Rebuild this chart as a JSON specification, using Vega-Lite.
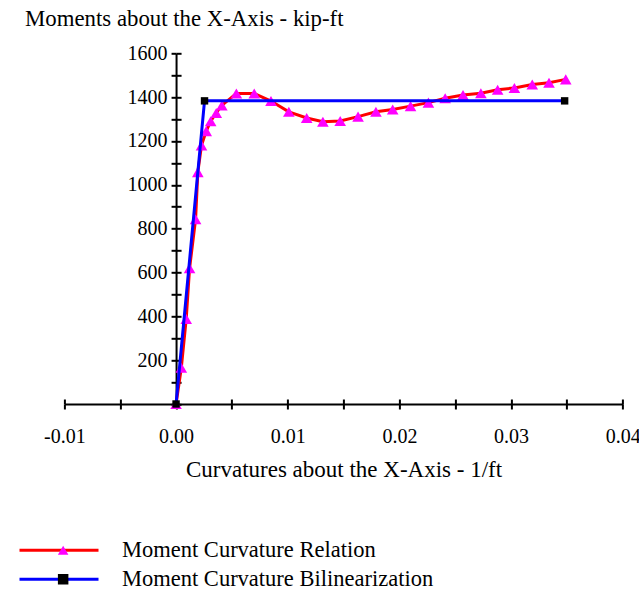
{
  "$schema": "https://vega.github.io/schema/vega-lite/v6.json",
  "width": 558.3,
  "height": 350.7,
  "autosize": {"type": "none"},
  "padding": {"left": 64.4, "top": 53.3, "right": 16.3, "bottom": 186},
  "background": "white",
  "config": {
    "view": {"stroke": null},
    "axis": {"grid": false, "domainColor": "black", "tickColor": "black", "labelColor": "black", "titleColor": "black", "labelFont": "Liberation Serif", "titleFont": "Liberation Serif", "titleFontWeight": "normal", "domainWidth": 2, "tickWidth": 2, "tickSize": 5},
    "legend": {"labelFont": "Liberation Serif", "labelColor": "black", "padding": 0}
  },
  "data": {"values": [
    {"curve": "Moment Curvature Relation", "x": 0, "y": 0},
    {"curve": "Moment Curvature Relation", "x": 0.00047, "y": 165},
    {"curve": "Moment Curvature Relation", "x": 0.00091, "y": 388},
    {"curve": "Moment Curvature Relation", "x": 0.00121, "y": 619},
    {"curve": "Moment Curvature Relation", "x": 0.00175, "y": 843},
    {"curve": "Moment Curvature Relation", "x": 0.00195, "y": 1058},
    {"curve": "Moment Curvature Relation", "x": 0.00228, "y": 1180},
    {"curve": "Moment Curvature Relation", "x": 0.0027, "y": 1245},
    {"curve": "Moment Curvature Relation", "x": 0.0031, "y": 1290},
    {"curve": "Moment Curvature Relation", "x": 0.0036, "y": 1328},
    {"curve": "Moment Curvature Relation", "x": 0.0041, "y": 1362},
    {"curve": "Moment Curvature Relation", "x": 0.0054, "y": 1417},
    {"curve": "Moment Curvature Relation", "x": 0.007, "y": 1417},
    {"curve": "Moment Curvature Relation", "x": 0.0085, "y": 1382},
    {"curve": "Moment Curvature Relation", "x": 0.0101, "y": 1333},
    {"curve": "Moment Curvature Relation", "x": 0.0117, "y": 1305},
    {"curve": "Moment Curvature Relation", "x": 0.01315, "y": 1288},
    {"curve": "Moment Curvature Relation", "x": 0.0147, "y": 1291},
    {"curve": "Moment Curvature Relation", "x": 0.0163, "y": 1311},
    {"curve": "Moment Curvature Relation", "x": 0.0179, "y": 1333},
    {"curve": "Moment Curvature Relation", "x": 0.0194, "y": 1344},
    {"curve": "Moment Curvature Relation", "x": 0.021, "y": 1359},
    {"curve": "Moment Curvature Relation", "x": 0.0226, "y": 1375},
    {"curve": "Moment Curvature Relation", "x": 0.0241, "y": 1395},
    {"curve": "Moment Curvature Relation", "x": 0.0257, "y": 1410},
    {"curve": "Moment Curvature Relation", "x": 0.0273, "y": 1418},
    {"curve": "Moment Curvature Relation", "x": 0.0288, "y": 1434},
    {"curve": "Moment Curvature Relation", "x": 0.0303, "y": 1442},
    {"curve": "Moment Curvature Relation", "x": 0.0319, "y": 1458},
    {"curve": "Moment Curvature Relation", "x": 0.0334, "y": 1466},
    {"curve": "Moment Curvature Relation", "x": 0.0349, "y": 1481},
    {"curve": "Moment Curvature Bilinearization", "x": 0, "y": 0},
    {"curve": "Moment Curvature Bilinearization", "x": 0.00255, "y": 1383},
    {"curve": "Moment Curvature Bilinearization", "x": 0.0348, "y": 1383}
  ]},
  "transform": [{"calculate": "datum.curve", "as": "series"}],
  "resolve": {"axis": {"x": "independent", "y": "independent"}},
  "layer": [
    {
      "transform": [{"filter": "datum.curve == 'Moment Curvature Relation'"}],
      "mark": {"type": "line", "strokeWidth": 3},
      "encoding": {
        "x": {"field": "x", "type": "quantitative", "scale": {"domain": [-0.01, 0.04], "nice": false, "zero": false},
          "axis": {"orient": "bottom", "values": [-0.01, -0.005, 0, 0.005, 0.01, 0.015, 0.02, 0.025, 0.03, 0.035, 0.04],
            "labelExpr": "abs(datum.value * 100 - round(datum.value * 100)) < 0.001 ? replace(format(datum.value, '.2f'), '−', '-') : ''",
            "labelFontSize": 20, "labelPadding": 17, "labelFlush": false, "labelOverlap": false,
            "title": "Curvatures about the X-Axis - 1/ft", "titleFontSize": 23, "titlePadding": 12}},
        "y": {"field": "y", "type": "quantitative", "scale": {"domain": [0, 1600], "nice": false, "zero": true},
          "axis": {"orient": "left", "offset": -111.66, "values": [0, 100, 200, 300, 400, 500, 600, 700, 800, 900, 1000, 1100, 1200, 1300, 1400, 1500, 1600], "format": "d",
            "labelExpr": "datum.value % 200 == 0 && datum.value > 0 ? datum.label : ''",
            "labelFontSize": 20, "labelPadding": 4, "labelOverlap": false,
            "title": "Moments about the X-Axis - kip-ft", "titleFontSize": 22.8, "titleAngle": 0, "titleAlign": "left", "titleBaseline": "middle", "titleX": -151.5, "titleY": -35}},
        "stroke": {"field": "curve", "type": "nominal",
          "scale": {"domain": ["Moment Curvature Relation", "Moment Curvature Bilinearization"], "range": ["#FF0000", "#0000FF"]},
          "legend": {"title": null, "orient": "none", "legendX": -46.4, "legendY": 487, "symbolType": "stroke", "symbolSize": 6241, "symbolStrokeWidth": 3, "clipHeight": 20, "rowPadding": 6, "labelFontSize": 22.5, "labelOffset": 22, "labelLimit": 0}}
      }
    },
    {
      "transform": [{"filter": "datum.curve == 'Moment Curvature Relation'"}],
      "mark": {"type": "point", "filled": true, "shape": "triangle-up", "size": 135, "opacity": 1},
      "encoding": {
        "x": {"field": "x", "type": "quantitative", "axis": {"orient": "top", "offset": -350.7, "labels": false, "domain": false, "title": null, "values": [-0.01, -0.005, 0, 0.005, 0.01, 0.015, 0.02, 0.025, 0.03, 0.035, 0.04]}},
        "y": {"field": "y", "type": "quantitative", "axis": {"orient": "right", "offset": -446.64, "labels": false, "domain": false, "title": null, "values": [0, 100, 200, 300, 400, 500, 600, 700, 800, 900, 1000, 1100, 1200, 1300, 1400, 1500, 1600]}},
        "shape": {"field": "series", "type": "nominal", "sort": "descending", "scale": {"range": ["triangle-up", "square"]}},
        "fill": {"field": "series", "type": "nominal", "sort": "descending", "scale": {"range": ["#FF00FF", "#000000"]},
          "legend": {"title": null, "orient": "none", "legendX": -12.5, "legendY": 487, "symbolSize": 110, "symbolStrokeWidth": 0, "symbolOpacity": 1, "clipHeight": 20, "rowPadding": 6, "labelFontSize": 22.5, "labelExpr": "''", "labelLimit": 0}}
      }
    },
    {
      "transform": [{"filter": "datum.curve == 'Moment Curvature Bilinearization'"}],
      "mark": {"type": "line", "strokeWidth": 3},
      "encoding": {
        "x": {"field": "x", "type": "quantitative", "axis": null},
        "y": {"field": "y", "type": "quantitative", "axis": null},
        "stroke": {"field": "curve", "type": "nominal"}
      }
    },
    {
      "transform": [{"filter": "datum.curve == 'Moment Curvature Bilinearization'"}],
      "mark": {"type": "point", "filled": true, "size": 55, "opacity": 1},
      "encoding": {
        "x": {"field": "x", "type": "quantitative", "axis": null},
        "y": {"field": "y", "type": "quantitative", "axis": null},
        "shape": {"field": "series", "type": "nominal", "sort": "descending"},
        "fill": {"field": "series", "type": "nominal", "sort": "descending"}
      }
    }
  ]
}
